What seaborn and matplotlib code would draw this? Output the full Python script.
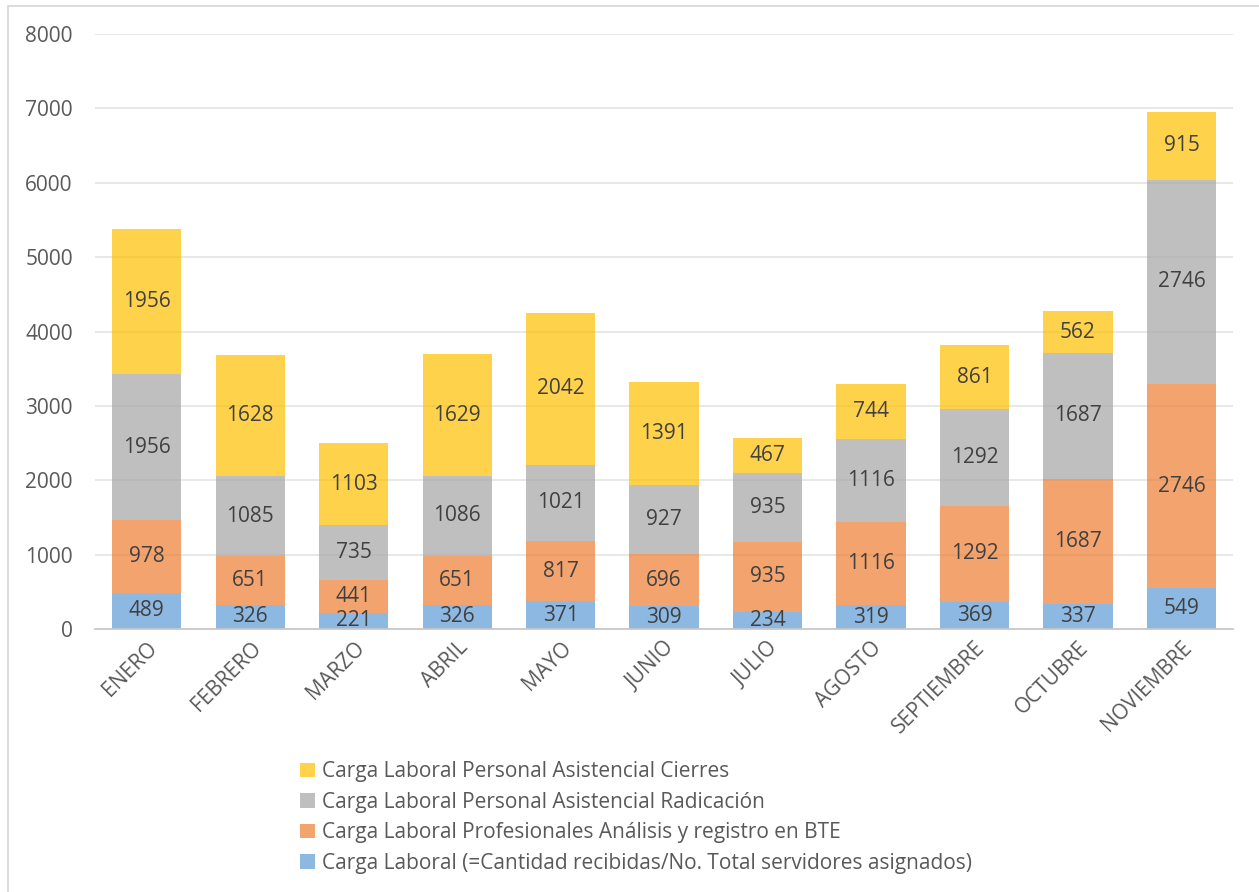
import matplotlib
matplotlib.use("Agg")
import matplotlib.pyplot as plt
import seaborn as sns
import pandas as pd
import numpy as np
from matplotlib.patches import Patch, Rectangle

months = ["ENERO", "FEBRERO", "MARZO", "ABRIL", "MAYO", "JUNIO", "JULIO",
          "AGOSTO", "SEPTIEMBRE", "OCTUBRE", "NOVIEMBRE"]
carga = [489, 326, 221, 326, 371, 309, 234, 319, 369, 337, 549]
profesionales = [978, 651, 441, 651, 817, 696, 935, 1116, 1292, 1687, 2746]
radicacion = [1956, 1085, 735, 1086, 1021, 927, 935, 1116, 1292, 1687, 2746]
cierres = [1956, 1628, 1103, 1629, 2042, 1391, 467, 744, 861, 562, 915]

series_names = [
    "Carga Laboral (=Cantidad recibidas/No. Total servidores asignados)",
    "Carga Laboral Profesionales Análisis y registro en BTE",
    "Carga Laboral Personal Asistencial Radicación",
    "Carga Laboral Personal Asistencial Cierres",
]
series_vals = [carga, profesionales, radicacion, cierres]
colors = ["#5B9BD5", "#ED7D31", "#A5A5A5", "#FFC000"]

sns.set_theme(style="white")
plt.rcParams["font.family"] = ["Open Sans", "DejaVu Sans"]

fig = plt.figure(figsize=(12.59, 8.92), dpi=100)
ax = fig.add_axes([0.0755, 0.2948, 0.904, 0.667])

FS = 15
bottom = np.zeros(len(months))
for name, vals, col in zip(series_names, series_vals, colors):
    df = pd.DataFrame({"mes": months, "valor": vals})
    sns.barplot(data=df, x="mes", y="valor", color=col, alpha=0.7,
                bottom=bottom.copy(), width=0.67, ax=ax, saturation=1,
                edgecolor="none", linewidth=0, zorder=2)
    for i, v in enumerate(vals):
        ax.text(i, bottom[i] + v / 2, str(v), ha="center", va="center",
                fontsize=FS, color="#404040", zorder=4)
    bottom += np.array(vals)

ax.set_ylim(0, 8000)
ax.set_xlim(-0.5, len(months) - 0.5)
ax.set_yticks(range(0, 8001, 1000))
ax.yaxis.grid(True, color="#E6E6E6", linewidth=1.3, zorder=0)
ax.set_axisbelow(True)
for s in ["top", "right", "left"]:
    ax.spines[s].set_visible(False)
ax.spines["bottom"].set_color("#C8C8C8")
ax.spines["bottom"].set_linewidth(1.3)
ax.set_xlabel("")
ax.set_ylabel("")
ax.tick_params(axis="y", labelsize=FS, colors="#595959", length=0, pad=16)
ax.tick_params(axis="x", labelsize=FS, colors="#595959", length=0, pad=6)
plt.setp(ax.get_xticklabels(), rotation=45, ha="right", rotation_mode="anchor")

handles = [Patch(facecolor=c, alpha=0.7, edgecolor="none") for c in colors][::-1]
labels = series_names[::-1]
leg = fig.legend(handles, labels, loc="upper left", bbox_to_anchor=(0.232, 0.156),
                 bbox_transform=fig.transFigure, frameon=False, fontsize=FS,
                 labelcolor="#595959", handlelength=0.7, handleheight=0.7,
                 handletextpad=0.35, labelspacing=0.46, borderaxespad=0)

fig.patches.append(Rectangle((8 / 1259, -0.01), 1.1, 1 - 6 / 892 + 0.01,
                             transform=fig.transFigure, fill=False,
                             edgecolor="#D9D9D9", linewidth=1.3))
fig.savefig("out.png", dpi=100)
